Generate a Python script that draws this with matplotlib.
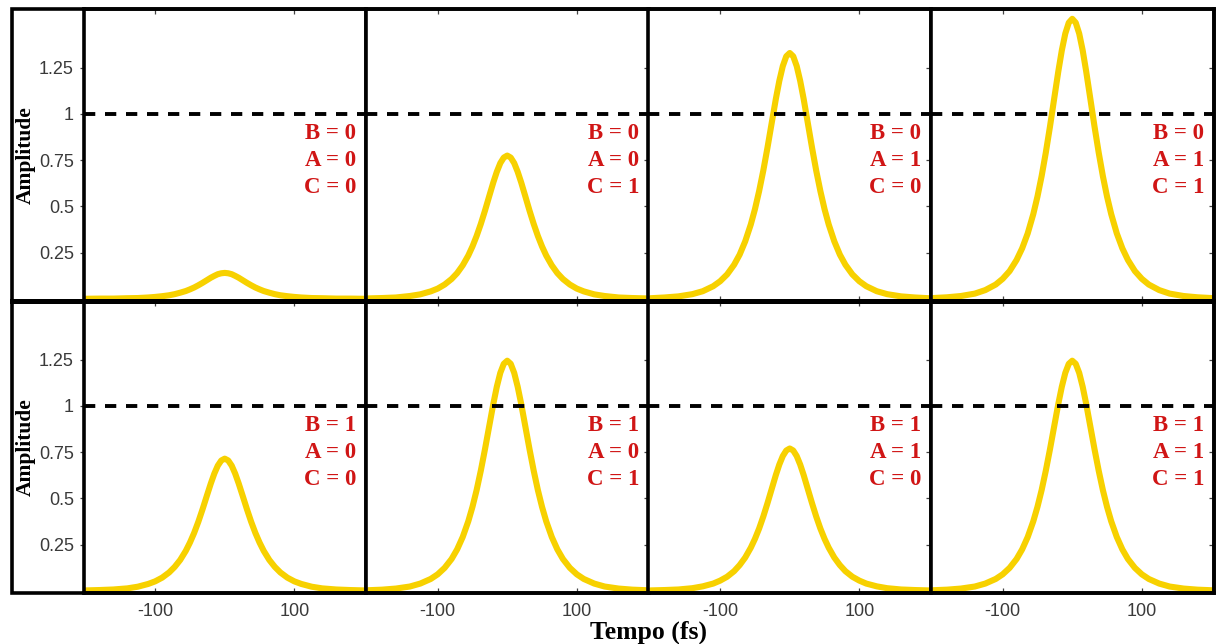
import matplotlib
matplotlib.use("Agg")
import matplotlib.pyplot as plt
from matplotlib.patches import Rectangle
from matplotlib.lines import Line2D

# ---------------- data ----------------
tempo = [-200, -180, -160, -140, -125, -110, -100, -90, -80, -72, -64, -56, -50, -44, -38, -32,
         -26, -20, -15, -10, -5, 0, 5, 10, 15, 20, 26, 32, 38, 44, 50, 56, 64, 72, 80, 90,
         100, 110, 125, 140, 160, 180, 200]

amp_b0_a0_c0 = [0.000, 0.001, 0.001, 0.003, 0.004, 0.007, 0.010, 0.014, 0.019, 0.025, 0.033,
                0.042, 0.051, 0.061, 0.073, 0.086, 0.100, 0.114, 0.124, 0.133, 0.138, 0.140,
                0.138, 0.133, 0.124, 0.114, 0.100, 0.086, 0.073, 0.061, 0.051, 0.042, 0.033,
                0.025, 0.019, 0.014, 0.010, 0.007, 0.004, 0.003, 0.001, 0.001, 0.000]
amp_b0_a0_c1 = [0.002, 0.004, 0.007, 0.015, 0.024, 0.040, 0.055, 0.077, 0.107, 0.139, 0.181,
                0.234, 0.283, 0.340, 0.405, 0.477, 0.554, 0.630, 0.687, 0.734, 0.764, 0.775,
                0.764, 0.734, 0.687, 0.630, 0.554, 0.477, 0.405, 0.340, 0.283, 0.234, 0.181,
                0.139, 0.107, 0.077, 0.055, 0.040, 0.024, 0.015, 0.007, 0.004, 0.002]
amp_b0_a1_c0 = [0.003, 0.007, 0.013, 0.025, 0.041, 0.068, 0.095, 0.132, 0.184, 0.239, 0.311,
                0.402, 0.485, 0.583, 0.694, 0.818, 0.950, 1.081, 1.179, 1.259, 1.312, 1.330,
                1.312, 1.259, 1.179, 1.081, 0.950, 0.818, 0.694, 0.583, 0.485, 0.402, 0.311,
                0.239, 0.184, 0.132, 0.095, 0.068, 0.041, 0.025, 0.013, 0.007, 0.003]
amp_b0_a1_c1 = [0.004, 0.008, 0.015, 0.028, 0.047, 0.077, 0.108, 0.150, 0.210, 0.273, 0.354,
                0.458, 0.553, 0.664, 0.791, 0.932, 1.082, 1.231, 1.344, 1.435, 1.494, 1.515,
                1.494, 1.435, 1.344, 1.231, 1.082, 0.932, 0.791, 0.664, 0.553, 0.458, 0.354,
                0.273, 0.210, 0.150, 0.108, 0.077, 0.047, 0.028, 0.015, 0.008, 0.004]
amp_b1_a0_c0 = [0.002, 0.004, 0.007, 0.013, 0.022, 0.037, 0.051, 0.071, 0.099, 0.129, 0.167,
                0.216, 0.261, 0.313, 0.373, 0.440, 0.511, 0.581, 0.634, 0.677, 0.705, 0.715,
                0.705, 0.677, 0.634, 0.581, 0.511, 0.440, 0.373, 0.313, 0.261, 0.216, 0.167,
                0.129, 0.099, 0.071, 0.051, 0.037, 0.022, 0.013, 0.007, 0.004, 0.002]
amp_b1_a0_c1 = [0.003, 0.006, 0.012, 0.023, 0.039, 0.064, 0.089, 0.124, 0.172, 0.224, 0.291,
                0.376, 0.454, 0.545, 0.650, 0.766, 0.889, 1.012, 1.104, 1.179, 1.228, 1.245,
                1.228, 1.179, 1.104, 1.012, 0.889, 0.766, 0.650, 0.545, 0.454, 0.376, 0.291,
                0.224, 0.172, 0.124, 0.089, 0.064, 0.039, 0.023, 0.012, 0.006, 0.003]
amp_b1_a1_c0 = [0.002, 0.004, 0.007, 0.014, 0.024, 0.039, 0.055, 0.076, 0.106, 0.139, 0.180,
                0.233, 0.281, 0.337, 0.402, 0.474, 0.550, 0.626, 0.683, 0.729, 0.759, 0.770,
                0.759, 0.729, 0.683, 0.626, 0.550, 0.474, 0.402, 0.337, 0.281, 0.233, 0.180,
                0.139, 0.106, 0.076, 0.055, 0.039, 0.024, 0.014, 0.007, 0.004, 0.002]
amp_b1_a1_c1 = [0.003, 0.006, 0.012, 0.023, 0.039, 0.064, 0.089, 0.124, 0.172, 0.224, 0.291,
                0.376, 0.454, 0.545, 0.650, 0.766, 0.889, 1.012, 1.104, 1.179, 1.228, 1.245,
                1.228, 1.179, 1.104, 1.012, 0.889, 0.766, 0.650, 0.545, 0.454, 0.376, 0.291,
                0.224, 0.172, 0.124, 0.089, 0.064, 0.039, 0.023, 0.012, 0.006, 0.003]

panel_series = [amp_b0_a0_c0, amp_b0_a0_c1, amp_b0_a1_c0, amp_b0_a1_c1,
                amp_b1_a0_c0, amp_b1_a0_c1, amp_b1_a1_c0, amp_b1_a1_c1]
panel_b = [0, 0, 0, 0, 1, 1, 1, 1]
panel_a = [0, 0, 1, 1, 0, 0, 1, 1]
panel_c = [0, 1, 0, 1, 0, 1, 0, 1]

threshold = 1.0
y_ticks = [0.25, 0.5, 0.75, 1.0, 1.25]
y_ticklabels = ["0.25", "0.5", "0.75", "1", "1.25"]
x_ticks = [-100, 100]
x_ticklabels = ["-100", "100"]
x_label = "Tempo (fs)"
y_label = "Amplitude"

# ---------------- layout ----------------
W, H = 1216, 644
fig = plt.figure(figsize=(W / 100, H / 100), dpi=100)
fig.patch.set_facecolor("white")

col_edges = [83.5, 366, 648.5, 931, 1213.5]
row_edges = [9, 301, 593]

YELLOW = "#F7D100"
RED = "#D01515"
TICKC = "#3a3a3a"
SERIF = ["Liberation Serif", "DejaVu Serif"]
SANS = ["Liberation Sans", "DejaVu Sans"]

for i, series in enumerate(panel_series):
    r, c = divmod(i, 4)
    x0, x1 = col_edges[c], col_edges[c + 1]
    y0, y1 = row_edges[r], row_edges[r + 1]
    ax = fig.add_axes([x0 / W, 1 - y1 / H, (x1 - x0) / W, (y1 - y0) / H])
    ax.set_xlim(-203, 203)
    ax.set_ylim(-0.012, 1.568)
    ax.plot(tempo, series, color=YELLOW, lw=4.4, solid_joinstyle="round",
            solid_capstyle="round", zorder=2)
    ax.axhline(threshold, color="black", lw=2.8, dashes=(2.9, 2.5), zorder=3)
    for sp in ax.spines.values():
        sp.set_linewidth(2.6)
        sp.set_zorder(5)
    ax.set_yticks(y_ticks)
    ax.set_xticks(x_ticks)
    ax.tick_params(axis="x", which="both", direction="in", top=True, bottom=True,
                   length=3.5, width=0.9, color="#444444", labelsize=13, labelcolor=TICKC, pad=7)
    ax.tick_params(axis="y", which="both", direction="in", right=True, left=False,
                   length=3.5, width=0.9, color="#444444", labelsize=13, labelcolor=TICKC)
    if r == 1:
        ax.set_xticklabels(x_ticklabels, fontfamily=SANS)
    else:
        ax.set_xticklabels([])
    if c == 0:
        ax.tick_params(axis="y", left=True, labelleft=True, pad=4)
        ax.set_yticklabels(y_ticklabels, fontfamily=SANS)
        ax.yaxis.set_tick_params(which="both", direction="out", length=3)
    else:
        ax.tick_params(axis="y", labelleft=False)
    lines = [f"B = {panel_b[i]}", f"A = {panel_a[i]}", f"C = {panel_c[i]}"]
    for k, txt in enumerate(lines):
        ax.text(0.966, 0.573 - k * 0.0925, txt, transform=ax.transAxes, ha="right", va="center",
                color=RED, fontsize=16.5, fontweight="bold", fontfamily=SERIF, zorder=4)
    if c == 0:
        fig.text(26 / W, 1 - ((y0 + y1) / 2) / H, y_label, rotation=90, ha="center", va="center",
                 fontsize=15.5, fontweight="bold", fontfamily=SERIF)

# outer frame around the whole panel block (including left label area)
fig.add_artist(Rectangle((11.5 / W, 1 - 593 / H), (1213.5 - 11.5) / W, (593 - 9) / H,
                         transform=fig.transFigure, fill=False, lw=2.6, ec="black", zorder=10))
fig.add_artist(Line2D([11.5 / W, 1213.5 / W], [1 - 301 / H, 1 - 301 / H],
                      transform=fig.transFigure, lw=3.6, color="black", zorder=10))

fig.text(648.5 / W, 1 - 632 / H, x_label, ha="center", va="center", fontsize=18.5,
         fontweight="bold", fontfamily=SERIF)

fig.savefig("out.png", dpi=100, facecolor="white")
